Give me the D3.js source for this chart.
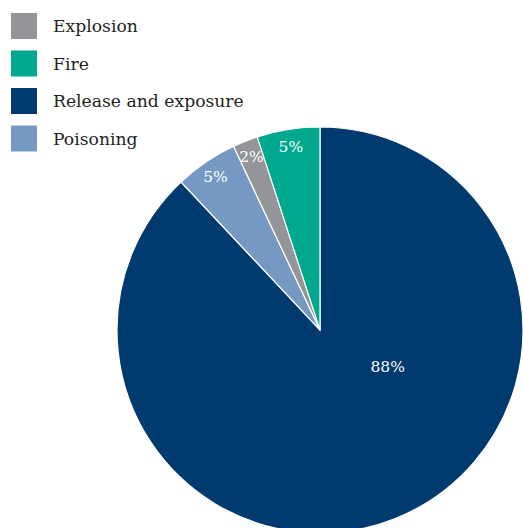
<!DOCTYPE html>
<html>
<head>
<meta charset="utf-8">
<script src="https://cdn.jsdelivr.net/npm/d3@7"></script>
<style>
  html, body { margin: 0; padding: 0; background: #fff; }
  svg { display: block; font-family: "DejaVu Serif", "Liberation Serif", serif; }
</style>
</head>
<body>
<svg id="chart" width="523" height="528"></svg>
<script>
const legendNames = ["Explosion", "Fire", "Release and exposure", "Poisoning"];
const legendColors = ["#939598", "#00a88e", "#003a6e", "#7599c2"];

// clockwise from 12 o'clock
const sliceNames = ["Release and exposure", "Poisoning", "Explosion", "Fire"];
const sliceValues = [88, 5, 2, 5];

const width = 523, height = 528;
const cx = 320, cy = 330, radius = 203;

const svg = d3.select("#chart");

const color = d3.scaleOrdinal().domain(legendNames).range(legendColors);

const pie = d3.pie().sort(null).value(d => d.value);
const arcs = pie(sliceNames.map((n, i) => ({ name: n, value: sliceValues[i] })));

const arc = d3.arc().innerRadius(0).outerRadius(radius);
const labelArc = d3.arc().innerRadius(186).outerRadius(186);

const g = svg.append("g").attr("transform", `translate(${cx},${cy})`);

g.selectAll("path")
  .data(arcs)
  .enter()
  .append("path")
  .attr("d", arc)
  .attr("fill", d => color(d.data.name))
  .attr("stroke", "#fff")
  .attr("stroke-width", 1.2);

// labels: small slices near the rim, big slice placed inward
g.selectAll("text.pct")
  .data(arcs)
  .enter()
  .append("text")
  .attr("class", "pct")
  .attr("transform", d => {
    if (d.data.value > 50) {
      const a = 118.5 * Math.PI / 180, r = 77;
      return `translate(${r * Math.sin(a)},${-r * Math.cos(a)})`;
    }
    const c = labelArc.centroid(d);
    return `translate(${c[0]},${c[1]})`;
  })
  .attr("text-anchor", "middle")
  .attr("dy", "0.35em")
  .attr("fill", "#fff")
  .attr("font-size", 15.5)
  .text(d => d.data.value + "%");

// legend
const legend = svg.append("g").attr("transform", "translate(11,13)");
const item = legend.selectAll("g")
  .data(legendNames)
  .enter()
  .append("g")
  .attr("transform", (d, i) => `translate(0,${i * 37.5})`);

item.append("rect")
  .attr("width", 26)
  .attr("height", 26)
  .attr("fill", d => color(d));

item.append("text")
  .attr("x", 42)
  .attr("y", 13)
  .attr("dy", "0.35em")
  .attr("font-size", 17.2)
  .attr("fill", "#231f20")
  .text(d => d);
</script>
</body>
</html>
